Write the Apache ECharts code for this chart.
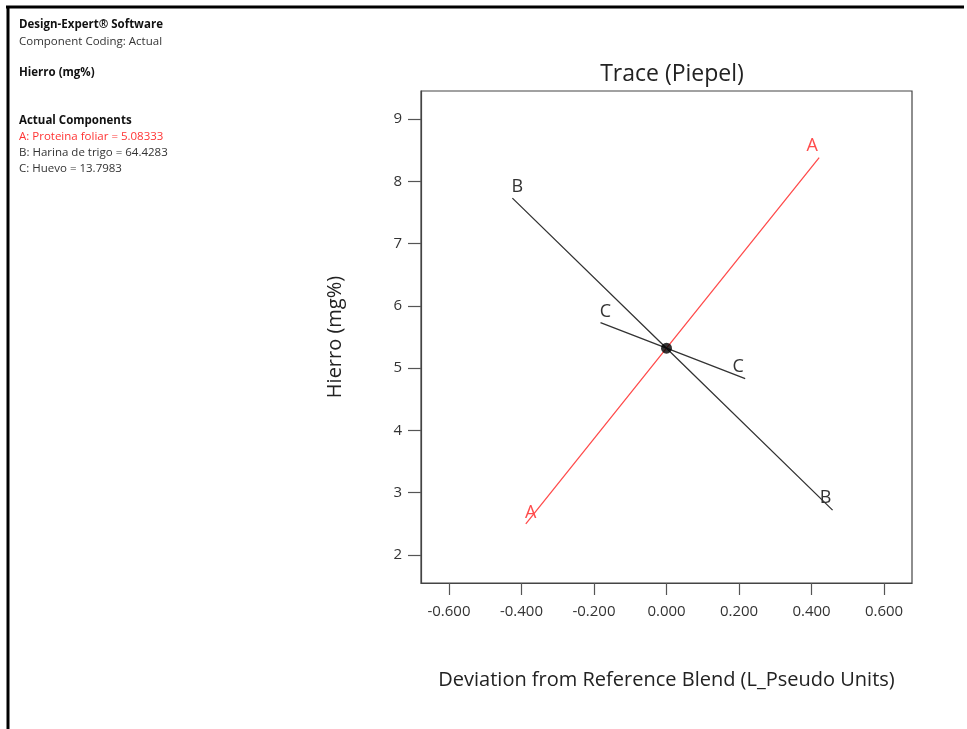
<!DOCTYPE html>
<html>
<head>
<meta charset="utf-8">
<script src="https://cdn.jsdelivr.net/npm/echarts@6/dist/echarts.min.js"></script>
<style>
html,body{margin:0;padding:0;background:#fff;}
#chart{width:967px;height:729px;}
</style>
</head>
<body>
<div id="chart"></div>
<script>
// Data
const xTicks = [-0.6, -0.4, -0.2, 0.0, 0.2, 0.4, 0.6];
const yTicks = [2, 3, 4, 5, 6, 7, 8, 9];
const traceA = [[-0.388, 2.50], [0.0, 5.32], [0.421, 8.38]];
const traceB = [[-0.425, 7.73], [0.0, 5.32], [0.458, 2.72]];
const traceC = [[-0.182, 5.73], [0.0, 5.32], [0.217, 4.83]];
const refPoint = [[0.0, 5.32]];
const infoLines = [
  'Design-Expert® Software',
  'Component Coding: Actual',
  'Hierro (mg%)',
  'Actual Components',
  'A: Proteina foliar = 5.08333',
  'B: Harina de trigo = 64.4283',
  'C: Huevo = 13.7983'
];

const FONT = '"Open Sans", "Noto Sans", sans-serif';
const chart = echarts.init(document.getElementById('chart'));

function traceSeries(name, data, color) {
  return {
    type: 'line', name: name, data: data,
    symbol: 'none', showSymbol: false, smooth: false,
    lineStyle: { color: color, width: 1.3 },
    markPoint: {
      symbol: 'circle', symbolSize: 0,
      data: [
        { coord: data[0], label: { show: true, formatter: name, color: color, fontSize: 18, fontFamily: FONT, offset: [5, -11] } },
        { coord: data[data.length - 1], label: { show: true, formatter: name, color: color, fontSize: 18, fontFamily: FONT, offset: [-7, -12] } }
      ]
    },
    z: 3
  };
}

const option = {
  backgroundColor: '#fff',
  animation: false,
  title: {
    text: 'Trace (Piepel)', left: 667, top: 58, textAlign: 'center',
    textStyle: { fontFamily: FONT, fontSize: 23, fontWeight: 'normal', color: '#222' }
  },
  grid: { left: 421, top: 91, width: 491, height: 492, show: true, borderColor: '#444', borderWidth: 1.2, backgroundColor: 'transparent' },
  xAxis: {
    type: 'value', min: -0.677, max: 0.677,
    name: 'Deviation from Reference Blend (L_Pseudo Units)',
    nameLocation: 'middle', nameGap: 87,
    nameTextStyle: { fontFamily: FONT, fontSize: 20, color: '#222' },
    axisLine: { show: true, onZero: false, lineStyle: { color: '#444', width: 1.2 } },
    axisTick: { show: true, length: 12, lineStyle: { color: '#555', width: 1.2 }, customValues: xTicks },
    axisLabel: { color: '#333', fontFamily: FONT, fontSize: 15, margin: 21, customValues: xTicks, formatter: v => v.toFixed(3) },
    splitLine: { show: false }
  },
  yAxis: {
    type: 'value', min: 1.55, max: 9.45,
    name: 'Hierro (mg%)',
    nameLocation: 'middle', nameGap: 76, nameRotate: 90,
    nameTextStyle: { fontFamily: FONT, fontSize: 20, color: '#222' },
    axisLine: { show: true, onZero: false, lineStyle: { color: '#444', width: 1.2 } },
    axisTick: { show: true, length: 13, lineStyle: { color: '#555', width: 1.2 }, customValues: yTicks },
    axisLabel: { color: '#333', fontFamily: FONT, fontSize: 15, margin: 19, customValues: yTicks },
    splitLine: { show: false }
  },
  series: [
    traceSeries('A', traceA, '#ff4d4d'),
    traceSeries('B', traceB, '#333333'),
    traceSeries('C', traceC, '#333333'),
    { type: 'scatter', data: refPoint, symbol: 'circle', symbolSize: 11, itemStyle: { color: '#000' }, z: 5 }
  ],
  graphic: [
    { type: 'line', shape: { x1: 6, y1: 7, x2: 964, y2: 7 }, style: { stroke: '#000', lineWidth: 3 }, silent: true },
    { type: 'line', shape: { x1: 8, y1: 6, x2: 8, y2: 729 }, style: { stroke: '#000', lineWidth: 3 }, silent: true },
    { type: 'text', left: 19, top: 19, style: { text: infoLines[0], fontFamily: FONT, fontSize: 11.5, fontWeight: 'bold', fill: '#111' } },
    { type: 'text', left: 19, top: 36, style: { text: infoLines[1], fontFamily: FONT, fontSize: 11.5, fill: '#333' } },
    { type: 'text', left: 19, top: 67, style: { text: infoLines[2], fontFamily: FONT, fontSize: 11.5, fontWeight: 'bold', fill: '#111' } },
    { type: 'text', left: 19, top: 115, style: { text: infoLines[3], fontFamily: FONT, fontSize: 11.5, fontWeight: 'bold', fill: '#111' } },
    { type: 'text', left: 19, top: 131, style: { text: infoLines[4], fontFamily: FONT, fontSize: 11.5, fill: '#ff3333' } },
    { type: 'text', left: 19, top: 147, style: { text: infoLines[5], fontFamily: FONT, fontSize: 11.5, fill: '#333' } },
    { type: 'text', left: 19, top: 163, style: { text: infoLines[6], fontFamily: FONT, fontSize: 11.5, fill: '#333' } }
  ]
};
chart.setOption(option);
</script>
</body>
</html>
